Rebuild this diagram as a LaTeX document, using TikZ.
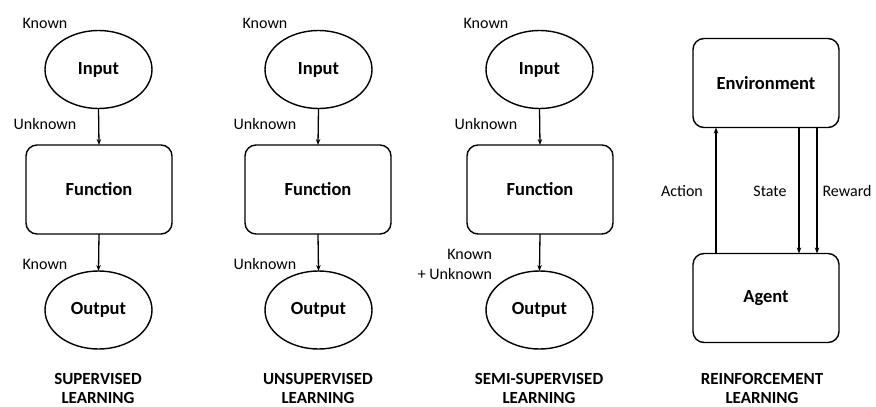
\documentclass[tikz,border=0pt]{standalone}
\usepackage{fontspec}
\setmainfont{Carlito}
\usetikzlibrary{arrows.meta,shapes.geometric}
\begin{document}
\begin{tikzpicture}[x=1pt,y=-1pt,
  every node/.style={inner sep=0pt,outer sep=0pt},
  oval/.style={draw,line width=1.4pt,ellipse,minimum width=107pt,minimum height=78pt,font=\fontsize{18.5}{20}\selectfont\bfseries},
  fbox/.style={draw,line width=1.4pt,rounded corners=11pt,minimum width=146pt,minimum height=89pt,font=\fontsize{18.5}{20}\selectfont\bfseries},
  lbl/.style={font=\fontsize{16}{20}\selectfont},
  ttl/.style={font=\fontsize{17}{19.5}\selectfont\bfseries,align=center},
  arr/.style={line width=1.3pt,-{Stealth[length=6pt,width=4.5pt]}}]
\useasboundingbox (0,0) rectangle (876,407);
% column 1
\node[oval] (in1) at (98.5,69.5) {Input};
\node[fbox] (f1) at (99,189.5) {Function};
\node[oval] (out1) at (98.5,310) {Output};
\draw[arr] (in1.south) -- (f1.north);
\draw[arr] (f1.south) -- (out1.north);
\node[lbl] (k1) at (45,23) {Known};
\node[lbl] (u1) at (45,124) {Unknown};
\node[lbl] (k1b) at (45,264) {Known};
\node[ttl] (t1) at (98,388.5) {SUPERVISED\\LEARNING};
% column 2
\node[oval] (in2) at (318.5,69.5) {Input};
\node[fbox] (f2) at (318,189.5) {Function};
\node[oval] (out2) at (318.5,310) {Output};
\draw[arr] (in2.south) -- (f2.north);
\draw[arr] (f2.south) -- (out2.north);
\node[lbl] (k2) at (265,23) {Known};
\node[lbl] (u2) at (265,124) {Unknown};
\node[lbl] (u2b) at (265,264) {Unknown};
\node[ttl] (t2) at (318,388.5) {UNSUPERVISED\\LEARNING};
% column 3
\node[oval] (in3) at (539.5,69.5) {Input};
\node[fbox] (f3) at (540,189.5) {Function};
\node[oval] (out3) at (539.5,310) {Output};
\draw[arr] (in3.south) -- (f3.north);
\draw[arr] (f3.south) -- (out3.north);
\node[lbl] (k3) at (486,23) {Known};
\node[lbl] (u3) at (486,124) {Unknown};
\node[lbl,align=right,anchor=east] (ku3) at (492,264.5) {Known\\+ Unknown};
\node[ttl] (t3) at (539,388.5) {SEMI-SUPERVISED\\LEARNING};
% column 4
\node[fbox] (env) at (766,83) {Environment};
\node[fbox] (ag) at (766,298) {Agent};
\draw[arr] (ag.north -| 716,0) -- (env.south -| 716,0);
\draw[arr] (env.south -| 799,0) -- (ag.north -| 799,0);
\draw[arr] (env.south -| 817,0) -- (ag.north -| 817,0);
\node[lbl] (act) at (682,191) {Action};
\node[lbl] (st) at (770,191) {State};
\node[lbl] (rw) at (847,191) {Reward};
\node[ttl] (t4) at (762,388.5) {REINFORCEMENT\\LEARNING};
\end{tikzpicture}
\end{document}
